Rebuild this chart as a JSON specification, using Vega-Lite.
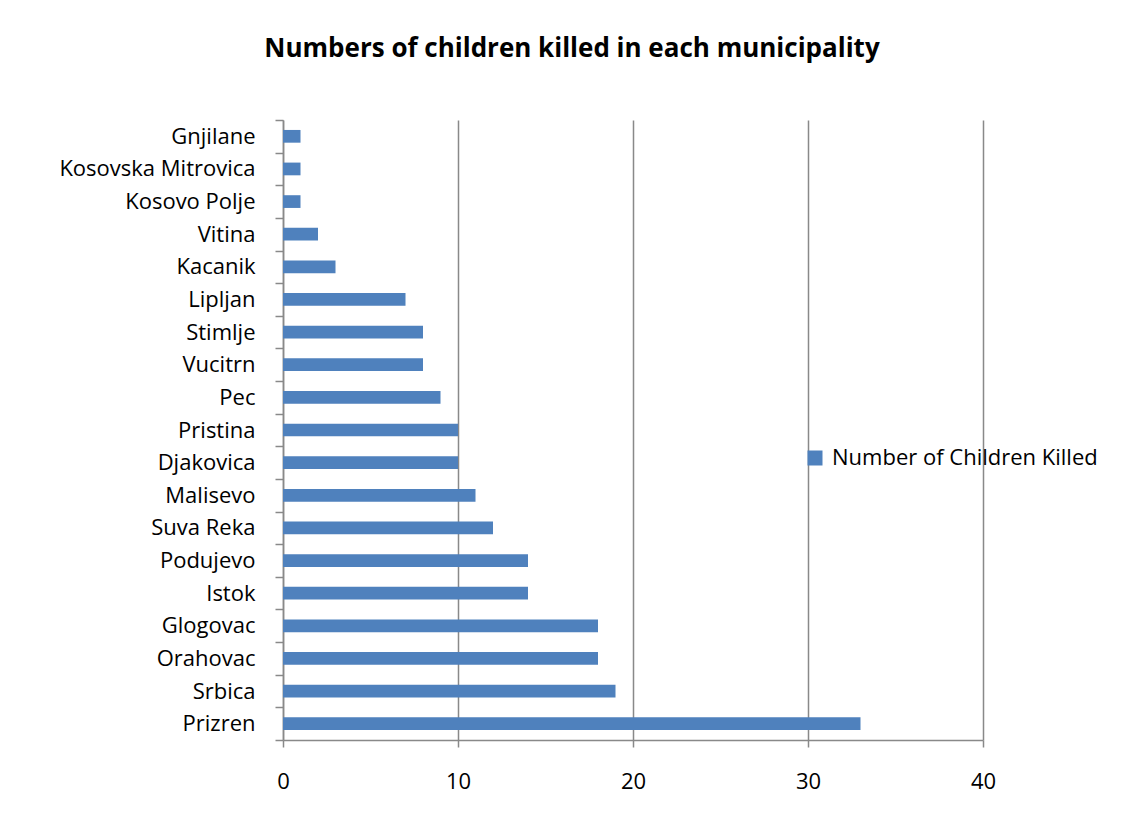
{
  "$schema": "https://vega.github.io/schema/vega-lite/v6.json",
  "autosize": {"type": "none"},
  "padding": {"left": 283, "top": 120, "right": 143, "bottom": 100},
  "width": 700,
  "height": 620,
  "background": "white",
  "title": {
    "text": "Numbers of children killed in each municipality",
    "anchor": "middle",
    "frame": "group",
    "dx": -61,
    "offset": 26,
    "baseline": "alphabetic",
    "font": "Open Sans",
    "fontSize": 26,
    "fontWeight": "bold",
    "color": "#000000"
  },
  "data": {
    "values": [
      {"municipality": "Gnjilane", "killed": 1},
      {"municipality": "Kosovska Mitrovica", "killed": 1},
      {"municipality": "Kosovo Polje", "killed": 1},
      {"municipality": "Vitina", "killed": 2},
      {"municipality": "Kacanik", "killed": 3},
      {"municipality": "Lipljan", "killed": 7},
      {"municipality": "Stimlje", "killed": 8},
      {"municipality": "Vucitrn", "killed": 8},
      {"municipality": "Pec", "killed": 9},
      {"municipality": "Pristina", "killed": 10},
      {"municipality": "Djakovica", "killed": 10},
      {"municipality": "Malisevo", "killed": 11},
      {"municipality": "Suva Reka", "killed": 12},
      {"municipality": "Podujevo", "killed": 14},
      {"municipality": "Istok", "killed": 14},
      {"municipality": "Glogovac", "killed": 18},
      {"municipality": "Orahovac", "killed": 18},
      {"municipality": "Srbica", "killed": 19},
      {"municipality": "Prizren", "killed": 33}
    ]
  },
  "mark": {"type": "bar", "color": "#4F81BD", "height": {"band": 0.39}},
  "encoding": {
    "y": {
      "field": "municipality",
      "type": "nominal",
      "sort": null,
      "scale": {"paddingInner": 0, "paddingOuter": 0},
      "axis": {
        "title": null,
        "domain": true,
        "tickBand": "extent",
        "tickSize": 8,
        "tickColor": "#898989",
        "tickWidth": 1.5,
        "domainColor": "#898989",
        "domainWidth": 1.5,
        "labelPadding": 20,
        "labelLimit": 0,
        "labelFont": "Open Sans",
        "labelFontSize": 22,
        "labelColor": "#000000",
        "grid": false
      }
    },
    "x": {
      "field": "killed",
      "type": "quantitative",
      "scale": {"domain": [0, 40], "nice": false},
      "axis": {
        "title": null,
        "values": [0, 10, 20, 30, 40],
        "tickSize": 7,
        "tickColor": "#898989",
        "tickWidth": 1.5,
        "domainColor": "#898989",
        "domainWidth": 1.5,
        "grid": true,
        "gridColor": "#898989",
        "gridWidth": 1.5,
        "labelFlush": false,
        "labelPadding": 24,
        "labelFont": "Open Sans",
        "labelFontSize": 22,
        "labelColor": "#000000"
      }
    },
    "color": {
      "datum": "Number of Children Killed",
      "scale": {"range": ["#4F81BD"]},
      "legend": {
        "title": null,
        "orient": "none",
        "legendX": 521,
        "legendY": 327,
        "symbolType": "square",
        "symbolSize": 225,
        "symbolStrokeWidth": 0,
        "labelFont": "Open Sans",
        "labelFontSize": 22,
        "labelColor": "#000000",
        "labelOffset": 6,
        "labelLimit": 0,
        "padding": 0
      }
    }
  },
  "config": {"view": {"stroke": null}}
}
